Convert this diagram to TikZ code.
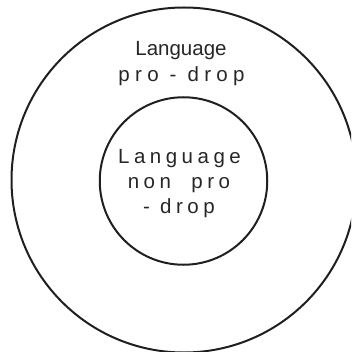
\documentclass[tikz,border=0pt]{standalone}
\usepackage{fontspec}
\setmainfont{Liberation Sans}
\newfontfamily\spaced[LetterSpace=22]{Liberation Sans}
\newfontfamily\wider[LetterSpace=26]{Liberation Sans}
\begin{document}
\begin{tikzpicture}[x=1pt,y=-1pt,
  ring/.style={draw=black!88, line width=2pt},
  lbl/.style={anchor=base, inner sep=0pt, text=black!85, font=\fontsize{20.5}{24}\selectfont}]
\useasboundingbox (0,0) rectangle (351,352);
\clip (0,0) rectangle (351,352);
\node[ring, circle, minimum size=345pt, inner sep=0pt] (outer) at (184,180) {};
\node[ring, circle, minimum size=167.5pt, inner sep=0pt] (inner) at (183.5,181) {};
\node[lbl] (o1) at (181,56) {Language};
\node[lbl] (o2) at (181.5,82) {\wider pro - drop};
\node[lbl] (i1) at (179.5,164) {\spaced Language};
\node[lbl] (i2) at (179,188.5) {\spaced non\ \ pro};
\node[lbl] (i3) at (179,213) {\spaced - drop};
\end{tikzpicture}
\end{document}
